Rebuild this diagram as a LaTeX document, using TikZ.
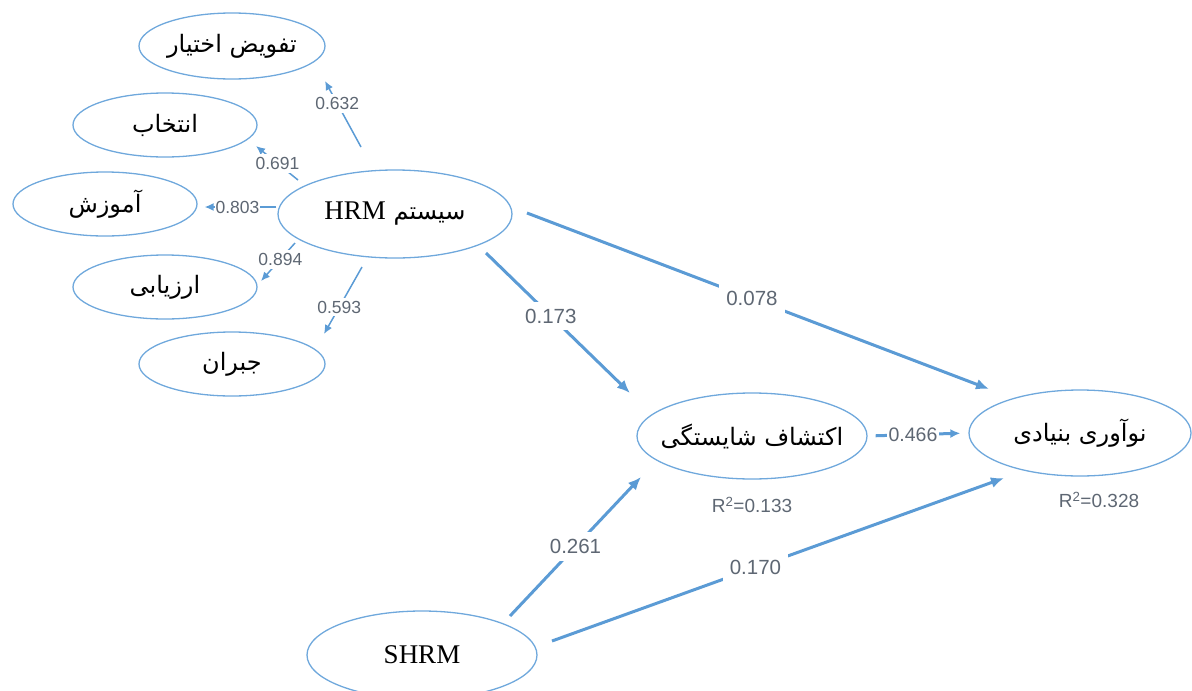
\documentclass[tikz,border=0pt]{standalone}
\usepackage{fontspec}
\setmainfont{Liberation Serif}
\newfontfamily\numfont{Liberation Sans}
\newfontfamily\arabicfont[Script=Arabic]{DejaVu Sans}
\TeXXeTstate=1
\usetikzlibrary{shapes.geometric,arrows.meta}
\definecolor{elc}{HTML}{6FA8DC}
\definecolor{arc}{HTML}{5B9BD5}
\definecolor{lbc}{HTML}{5E6773}
\begin{document}
\begin{tikzpicture}[x=1pt,y=-1pt,
  cons/.style={ellipse, draw=elc, line width=1.3pt, inner sep=0pt, font=\arabicfont\fontsize{24}{28}\selectfont},
  sarr/.style={draw=arc, line width=1.5pt, -{Latex[length=9pt,width=8pt]}},
  barr/.style={draw=arc, line width=3pt, -{Latex[length=13pt,width=11pt]}},
  slab/.style={fill=white, text=lbc, font=\numfont\fontsize{17.5}{20}\selectfont, inner sep=3pt},
  blab/.style={fill=white, text=lbc, font=\numfont\fontsize{20.5}{24}\selectfont, inner sep=7pt},
  rlab/.style={text=lbc, font=\numfont\fontsize{19}{22}\selectfont, inner sep=0pt}]
\useasboundingbox (0,0) rectangle (1192,691);
% constructs
\node[cons, minimum width=186pt, minimum height=66pt] (taf) at (232,46) {\beginR تفویض اختیار\endR};
\node[cons, minimum width=184pt, minimum height=64pt] (ent) at (165,125) {\beginR انتخاب\endR};
\node[cons, minimum width=184pt, minimum height=64pt] (amo) at (105,204) {\beginR آموزش\endR};
\node[cons, minimum width=184pt, minimum height=64pt] (arz) at (165,287) {\beginR ارزیابی\endR};
\node[cons, minimum width=186pt, minimum height=64pt] (job) at (232,364) {\beginR جبران\endR};
\node[cons, minimum width=234pt, minimum height=88pt] (hrm) at (395,214) {\makebox[0pt][c]{{\rmfamily\fontsize{27}{30}\selectfont HRM} سیستم}};
\node[cons, minimum width=230pt, minimum height=86pt] (kesh) at (752,436) {\makebox[0pt][c]{\beginR اکتشاف شایستگی\endR}};
\node[cons, minimum width=222pt, minimum height=86pt] (inno) at (1080,433) {\makebox[0pt][c]{\beginR نوآوری بنیادی\endR}};
\node[cons, minimum width=230pt, minimum height=88pt, font=\rmfamily\fontsize{27}{30}\selectfont] (shrm) at (422,655) {SHRM};
% R2
\node[rlab] (r1) at (752,505) {R\textsuperscript{2}=0.133};
\node[rlab] (r2) at (1099,500) {R\textsuperscript{2}=0.328};
% connector ends
\coordinate (s1) at (361,147); \coordinate (e1) at (325,81);
\coordinate (s2) at (298,180); \coordinate (e2) at (256,146);
\coordinate (s4) at (295,243); \coordinate (e4) at (261,281);
\coordinate (s5) at (362,267); \coordinate (e5) at (324,334);
\coordinate (b1s) at (527,213); \coordinate (b1e) at (989,389);
\coordinate (b2s) at (486,253); \coordinate (b2e) at (630,393);
\coordinate (b4s) at (510,616); \coordinate (b4e) at (641,477);
\coordinate (b5s) at (552,641); \coordinate (b5e) at (1004,478);
% outer loadings
\draw[sarr] (s1) -- node[slab, pos=0.66] (l1) {0.632} (e1);
\draw[sarr] (s2) -- node[slab, pos=0.49] (l2) {0.691} (e2);
\draw[sarr, shorten <=1pt, shorten >=7pt] (hrm.west |- 0,207) -- node[slab, inner sep=1pt, pos=0.5] (l3) {0.803} (amo.east |- 0,207);
\draw[sarr] (s4) -- node[slab, pos=0.43] (l4) {0.894} (e4);
\draw[sarr] (s5) -- node[slab, pos=0.6] (l5) {0.593} (e5);
% paths
\draw[barr] (b1s) -- node[blab, pos=0.487] (l6) {0.078} (b1e);
\draw[barr] (b2s) -- node[blab, pos=0.45] (l7) {0.173} (b2e);
\draw[barr, -{Latex[length=10pt,width=9pt]}, shorten <=8pt, shorten >=8pt] (kesh.east) -- node[blab, font=\numfont\fontsize{19.5}{22}\selectfont, inner sep=1.5pt, pos=0.45] (l8) {0.466} (inno.west);
\draw[barr] (b4s) -- node[blab, pos=0.5] (l9) {0.261} (b4e);
\draw[barr] (b5s) -- node[blab, pos=0.45] (l10) {0.170} (b5e);
\end{tikzpicture}
\end{document}
